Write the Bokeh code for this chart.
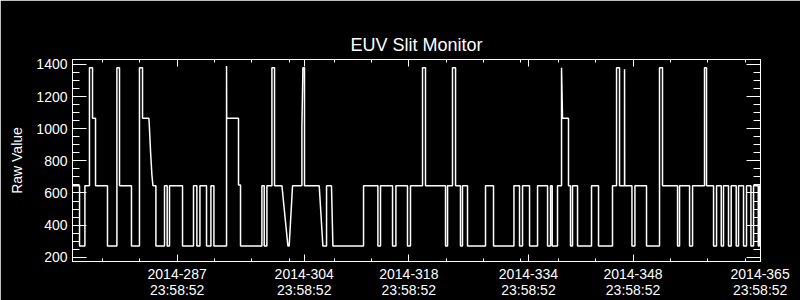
from bokeh.plotting import figure
from bokeh.models import Range1d, LinearAxis, FixedTicker
from bokeh.embed import file_html
from bokeh.resources import INLINE

# Day of year 2014 (fractional) and raw EUV slit monitor values
day = [
    273.00, 273.94, 273.94, 274.66, 274.66, 275.27, 275.27, 275.68, 275.68, 276.08, 276.08, 277.68, 277.68,
    278.94, 278.94, 279.29, 279.29, 280.89, 280.89, 281.96, 281.96, 282.37, 282.37, 283.22, 283.30, 283.44, 283.62, 283.76,
    284.16, 284.16, 285.31, 285.31, 285.67, 285.67, 285.98, 285.98, 287.72, 287.72,
    289.19, 289.19, 289.64, 289.64, 290.05, 290.05, 290.93, 290.93, 291.52, 291.52, 291.92, 291.92,
    293.61, 293.61, 293.63, 295.21, 295.21, 295.48, 295.48,
    298.34, 298.34, 298.65, 298.65, 299.01, 299.01, 299.68, 299.68, 300.03, 300.03,
    301.02, 301.82, 301.99, 302.44, 303.69, 303.69, 303.83, 304.04, 304.04,
    306.01, 306.50, 306.99, 306.99, 307.65, 307.84,
    311.94, 311.94, 313.86, 313.86, 314.21, 314.21, 315.82, 315.82, 316.27, 316.27, 317.82, 317.82, 318.22, 318.22,
    319.83, 319.83, 320.23, 320.23, 322.91, 322.91, 323.18, 323.18, 323.84, 323.84, 324.25, 324.25,
    324.91, 324.91, 325.18, 325.18, 325.85, 325.85, 328.26, 328.26, 329.33, 329.33,
    332.06, 332.06, 332.81, 332.81, 333.21, 333.21, 334.15, 334.15,
    335.22, 335.22, 336.56, 336.56, 336.96, 336.96, 337.18, 337.18, 337.89, 337.89,
    338.43, 338.43, 338.56, 339.36, 339.36, 339.63, 339.63, 339.90, 339.90, 340.57, 340.57,
    342.44, 342.44, 343.38, 343.38, 345.25, 345.25, 345.79, 345.79, 346.19, 346.19,
    346.86, 346.86, 346.88, 347.85, 347.85, 348.25, 348.25, 349.80, 349.80,
    351.54, 351.54, 351.94, 351.94, 353.95, 353.95, 354.22, 354.22, 355.56, 355.56, 355.96, 355.96,
    357.56, 357.56, 357.83, 357.83, 358.77, 358.77, 359.17, 359.17, 359.80, 359.80, 360.10, 360.10,
    360.77, 360.77, 361.13, 361.13, 361.80, 361.80, 362.11, 362.11, 362.78, 362.78, 363.18, 363.18,
    363.77, 363.77, 364.12, 364.12, 364.75, 364.75, 364.92, 364.92, 365.05,
]
raw = [
    645, 645, 270, 270, 645, 645, 1380, 1380, 1065, 1065, 645, 645, 270,
    270, 1380, 1380, 645, 645, 270, 270, 1380, 1380, 1065, 1065, 1000, 860, 715, 645,
    645, 270, 270, 645, 645, 270, 270, 645, 645, 270,
    270, 645, 645, 270, 270, 645, 645, 270, 270, 645, 645, 270,
    270, 1390, 1065, 1065, 650, 650, 270,
    270, 645, 645, 270, 270, 645, 645, 1380, 1380, 645,
    645, 270, 270, 645, 645, 1010, 1380, 1380, 645,
    645, 270, 270, 645, 645, 270,
    270, 645, 645, 270, 270, 645, 645, 270, 270, 645, 645, 270, 270, 645,
    645, 1380, 1380, 645, 645, 270, 270, 645, 645, 1380, 1380, 645,
    645, 270, 270, 645, 645, 270, 270, 645, 645, 270,
    270, 645, 645, 270, 270, 645, 645, 270,
    270, 645, 645, 270, 270, 645, 645, 270, 270, 645,
    645, 1380, 1065, 1065, 645, 645, 270, 270, 645, 645, 270,
    270, 645, 645, 270, 270, 645, 645, 1380, 1380, 645,
    645, 1370, 645, 645, 270, 270, 645, 645, 270,
    270, 1380, 1380, 645, 645, 270, 270, 645, 645, 270, 270, 645,
    645, 1380, 1380, 645, 645, 270, 270, 645, 645, 270, 270, 645,
    645, 270, 270, 645, 645, 270, 270, 645, 645, 270, 270, 645,
    645, 270, 270, 645, 645, 270, 270, 645, 645,
]

x_major = [287, 304, 318, 334, 348, 365]
x_minor = [277, 282, 292, 297, 302, 308, 313, 323, 328, 333, 338, 343, 353, 358, 363]
x_labels = ["2014-287\n23:58:52", "2014-304\n23:58:52", "2014-318\n23:58:52",
            "2014-334\n23:58:52", "2014-348\n23:58:52", "2014-365\n23:58:52"]
y_major = [200, 400, 600, 800, 1000, 1200, 1400]
y_minor = list(range(200, 1401, 50))

FONT = "Liberation Sans"

p = figure(width=800, height=300, output_backend="svg", toolbar_location=None,
           x_range=Range1d(273.0, 365.05), y_range=Range1d(173.5, 1431),
           min_border_left=72, min_border_right=40, min_border_top=59, min_border_bottom=37)

p.background_fill_color = "black"
p.border_fill_color = "black"
p.outline_line_color = "white"
p.outline_line_width = 1
p.grid.visible = False

p.title.text = "EUV Slit Monitor"
p.title.align = "center"
p.title.text_color = "white"
p.title.text_font = FONT
p.title.text_font_size = "18px"
p.title.text_font_style = "normal"

def style_axis(ax, major_in, minor_in):
    ax.axis_line_color = "white"
    ax.major_tick_line_color = "white"
    ax.minor_tick_line_color = "white"
    ax.major_tick_in = major_in
    ax.major_tick_out = 0
    ax.minor_tick_in = minor_in
    ax.minor_tick_out = 0
    ax.major_label_text_color = "white"
    ax.major_label_text_font = FONT
    ax.major_label_text_font_size = "14px"
    ax.axis_label_text_color = "white"
    ax.axis_label_text_font = FONT
    ax.axis_label_text_font_size = "14px"
    ax.axis_label_text_font_style = "normal"

xt = FixedTicker(ticks=x_major, minor_ticks=x_minor)
yt = FixedTicker(ticks=y_major, minor_ticks=y_minor)

xa = p.xaxis[0]
xa.ticker = xt
xa.major_label_overrides = dict(zip(x_major, x_labels))
style_axis(xa, 7, 3)
xa.major_label_standoff = 4
xa.major_label_text_line_height = 1.0

ya = p.yaxis[0]
ya.ticker = yt
ya.axis_label = "Raw Value"
style_axis(ya, 14, 7)
ya.major_label_standoff = 5
ya.axis_label_standoff = 8

top = LinearAxis(ticker=FixedTicker(ticks=x_major, minor_ticks=x_minor))
style_axis(top, 7, 3)
top.major_label_text_font_size = "1px"
top.major_label_text_color = None
top.major_label_standoff = 0
p.add_layout(top, "above")

right = LinearAxis(ticker=FixedTicker(ticks=y_major, minor_ticks=y_minor))
style_axis(right, 14, 7)
right.major_label_text_font_size = "1px"
right.major_label_text_color = None
p.add_layout(right, "right")

p.line(day, raw, line_color="white", line_width=1.5)

open("out.html", "w").write(file_html(p, INLINE))
